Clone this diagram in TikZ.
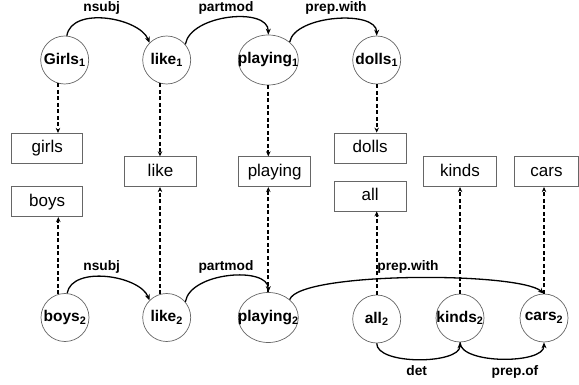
\documentclass[tikz,border=0pt]{standalone}
\usepackage{fontspec}
\setmainfont{Liberation Sans}
\usetikzlibrary{arrows.meta,shapes.geometric}
\newcommand{\wlab}[2]{\makebox[0pt]{#1\textsubscript{#2}}}
\begin{document}
\begin{tikzpicture}[x=1pt,y=-1pt,
  word/.style={circle,draw=black!60,line width=0.7pt,minimum size=48pt,inner sep=0pt,
    font=\fontsize{15.5}{16}\selectfont\bfseries},
  wordell/.style={ellipse,draw=black!60,line width=0.7pt,minimum width=60pt,minimum height=50pt,inner sep=0pt,
    font=\fontsize{15.5}{16}\selectfont\bfseries},
  lexbox/.style={rectangle,draw=black!60,line width=0.8pt,minimum height=30pt,inner sep=0pt,
    text height=12.3pt,text depth=3.6pt,font=\fontsize{17}{18}\selectfont},
  deplabel/.style={font=\fontsize{13.75}{14}\selectfont\bfseries,inner sep=0pt,anchor=base},
  dep/.style={line width=1.3pt,-{Stealth[length=6pt,width=5pt]}},
  maparrow/.style={line width=1.8pt,dash pattern=on 4pt off 2.5pt,-{Stealth[length=5pt,width=4.5pt]}},
]
\useasboundingbox (0,0) rectangle (579,385);
% top row
\node[word] (g1) at (64.7,60) {\wlab{Girls}{1}};
\node[word] (l1) at (166.7,60) {\wlab{like}{1}};
\node[wordell] (p1) at (268.3,60) {\wlab{playing}{1}};
\node[word] (d1) at (376.7,60) {\wlab{dolls}{1}};
% bottom row
\node[word] (b2) at (65,317.5) {\wlab{boys}{2}};
\node[word] (l2) at (166.7,317.5) {\wlab{like}{2}};
\node[wordell] (p2) at (268.3,317.5) {\wlab{playing}{2}};
\node[word] (a2) at (376.7,319) {\wlab{all}{2}};
\node[word] (k2) at (460,318) {\wlab{kinds}{2}};
\node[word] (c2) at (544,318) {\wlab{cars}{2}};
% boxes
\node[lexbox,minimum width=71pt] (girls) at (47.2,148.3) {girls};
\node[lexbox,minimum width=71pt] (boys) at (47.2,201.7) {boys};
\node[lexbox,minimum width=72.4pt] (like) at (160.5,171.7) {like};
\node[lexbox,minimum width=72pt] (playing) at (274.7,171.7) {playing};
\node[lexbox,minimum width=71.7pt] (dolls) at (370.2,148) {dolls};
\node[lexbox,minimum width=71.7pt] (all) at (370.2,196) {all};
\node[lexbox,minimum width=73.4pt] (kinds) at (460,171.7) {kinds};
\node[lexbox,minimum width=64pt] (cars) at (546.5,171.7) {cars};
% dashed mappings
\draw[maparrow] (g1.254) -- (g1.254 |- girls.north);
\draw[maparrow] (l1.254) -- (l1.254 |- like.north);
\draw[maparrow] (p1.south) -- (p1.south |- playing.north);
\draw[maparrow] (d1.south) -- (d1.south |- dolls.north);
\draw[maparrow] (b2.106) -- (b2.106 |- boys.south);
\draw[maparrow] (l2.106) -- (l2.106 |- like.south);
\draw[maparrow] (p2.north) -- (p2.north |- playing.south);
\draw[maparrow] (a2.north) -- (a2.north |- all.south);
\draw[maparrow] (k2.north) -- (k2.north |- kinds.south);
\draw[maparrow] (c2.north) -- (c2.north |- cars.south);
% top dependencies
\draw[dep] (g1.85) .. controls +(5,-30) and +(-10,-25) .. (l1.135);
\draw[dep] (l1.40) .. controls +(5,-30) and +(0,-28) .. (p1.north);
\draw[dep] (p1.40) .. controls +(5,-27) and +(0,-26) .. (d1.north);
\node[deplabel] (t1) at (101.7,11.6) {nsubj};
\node[deplabel] (t2) at (226,11.6) {partmod};
\node[deplabel] (t3) at (336,11.6) {prep.with};
% bottom dependencies
\draw[dep] (b2.85) .. controls +(5,-28) and +(-10,-25) .. (l2.135);
\draw[dep] (l2.40) .. controls +(5,-30) and +(0,-26) .. (p2.north);
\draw[dep] (p2.40) .. controls +(10,-28) and +(-25,-22) .. (c2.north);
\draw[dep] (a2.south) .. controls +(0,22) and +(0,22) .. (k2.south);
\draw[dep] (k2.south) .. controls +(0,22) and +(0,22) .. (c2.south);
\node[deplabel] (s1) at (101.7,270) {nsubj};
\node[deplabel] (s2) at (226,270) {partmod};
\node[deplabel] (s3) at (408,270) {prep.with};
\node[deplabel] (s4) at (416.7,375) {det};
\node[deplabel] (s5) at (515,375) {prep.of};
\end{tikzpicture}
\end{document}
